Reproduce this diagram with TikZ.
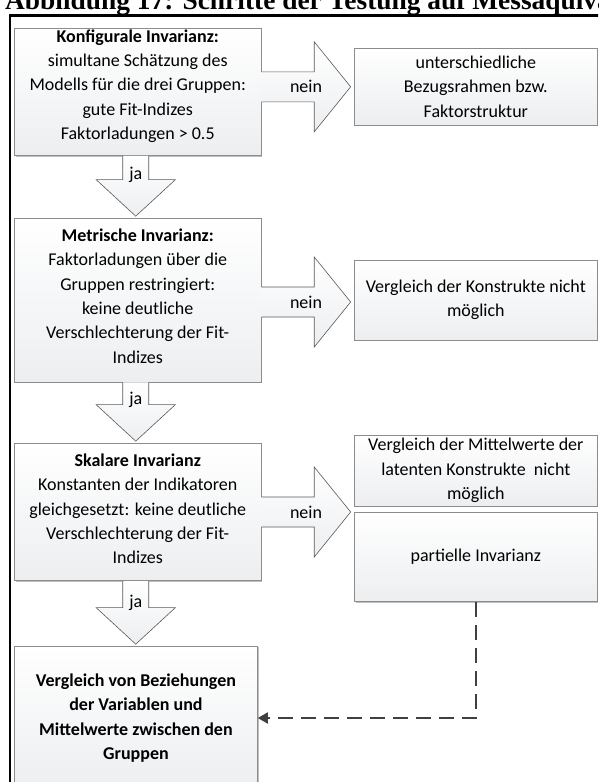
\documentclass[tikz,border=0pt]{standalone}
\usepackage{fontspec}
\setmainfont{Carlito}
\newfontfamily\titlefont{Liberation Serif}
\usetikzlibrary{calc,shadows,arrows.meta}

\definecolor{boxline}{HTML}{8C8C8C}
\definecolor{boxbottom}{HTML}{ECEEF0}
\definecolor{arrowline}{HTML}{595959}
\definecolor{dashline}{HTML}{404040}

% block arrow pointing right, from #1 to #2 at height #3, label node #4
\newcommand\rightblock[4]{%
  \path[blockarrow] let \p1=(#1.east), \p2=(#2.west) in
    (\x1,#3-15) -- (\x2-40.1pt,#3-15) -- (\x2-40.1pt,#3-45) -- (\x2-3.7pt,#3)
    -- (\x2-40.1pt,#3+45) -- (\x2-40.1pt,#3+15) -- (\x1,#3+15)
    node[arrowlabel] (#4) at ({(\x1+\x2)/2-1.85pt},#3) {nein};
}
% block arrow pointing down, from #1 to #2, label node #3
\newcommand\downblock[3]{%
  \path[blockarrow] let \p1=(#1.south), \p2=(#2.north) in
    (\x1-15pt,\y1) -- (\x1-15pt,\y2+38pt) -- (\x1-41.6pt,\y2+38pt) -- (\x1-2pt,\y2+1.5pt)
    -- (\x1+37.6pt,\y2+38pt) -- (\x1+11pt,\y2+38pt) -- (\x1+11pt,\y1)
    node[arrowlabel] (#3) at (\x1-2pt,\y2+43pt) {ja};
}

\begin{document}
\begin{tikzpicture}[x=1pt,y=-1pt,
  stepbox/.style={draw=boxline, line width=0.7pt, top color=white, bottom color=boxbottom,
    align=center, inner sep=0pt, font=\fontsize{18}{24.4}\selectfont,
    drop shadow={shadow xshift=1.2pt, shadow yshift=-1.2pt, fill=black, opacity=0.25}},
  blockarrow/.style={draw=arrowline, line width=0.6pt, top color=white, bottom color=boxbottom},
  arrowlabel/.style={font=\fontsize{18}{20}\selectfont, inner sep=0pt},
  feedback/.style={draw=dashline, line width=1.8pt, dash pattern=on 15pt off 8pt,
    -{Triangle[length=10pt,width=11pt]}}
]
\useasboundingbox (0,0) rectangle (598,782);
\clip (0,0) rectangle (598,782);

% caption and frame
\node[anchor=base west, inner sep=0pt, font=\titlefont\bfseries\fontsize{27.4}{30}\selectfont]
  (title) at (5,9) {Abbildung 17: Schritte der Testung auf Messäquiva};
\draw[line width=2.2pt] (10,15) -- (10,790);
\draw[line width=3pt] (8.9,15) -- (600,15);

% test steps
\node[stepbox, minimum width=246.5pt, minimum height=127pt, text depth=15pt] (konf) at (137.75,92.1)
  {\textbf{Konfigurale Invarianz:}\\simultane Schätzung des\\Modells für die drei Gruppen:\\gute Fit-Indizes\\Faktorladungen > 0.5};
\node[stepbox, minimum width=246.5pt, minimum height=164pt, text depth=8pt] (metr) at (137.75,300)
  {\textbf{Metrische Invarianz:}\\Faktorladungen über die\\Gruppen restringiert:\\keine deutliche\\Verschlechterung der Fit-\\Indizes};
\node[stepbox, minimum width=246.5pt, minimum height=137.7pt, text depth=6pt] (skal) at (137.75,511.85)
  {\textbf{Skalare Invarianz}\\Konstanten der Indikatoren\\gleichgesetzt: keine deutliche\\Verschlechterung der Fit-\\Indizes};
\node[stepbox, minimum width=243pt, minimum height=144pt] (result) at (135.95,718)
  {\textbf{Vergleich von Beziehungen}\\\textbf{der Variablen und}\\\textbf{Mittelwerte zwischen den}\\\textbf{Gruppen}};

% outcomes when a step fails
\node[stepbox, minimum width=242.3pt, minimum height=76.7pt] (frame) at (475.85,86.75)
  {unterschiedliche\\Bezugsrahmen bzw.\\Faktorstruktur};
\node[stepbox, minimum width=242.3pt, minimum height=80pt] (nocmp) at (475.85,300)
  {Vergleich der Konstrukte nicht\\möglich};
\node[stepbox, minimum width=242.3pt, minimum height=71pt] (nomean) at (475.85,470.5)
  {Vergleich der Mittelwerte der\\latenten Konstrukte\ \ nicht\\möglich};
\node[stepbox, minimum width=242.3pt, minimum height=89.7pt] (partial) at (475.85,556.85)
  {partielle Invarianz};

% flow
\downblock{konf}{metr}{ja1}
\downblock{metr}{skal}{ja2}
\downblock{skal}{result}{ja3}
\rightblock{konf}{frame}{86.8}{nein1}
\rightblock{metr}{nocmp}{302}{nein2}
\rightblock{skal}{nomean}{512}{nein3}
\draw[feedback] (partial.south) |- (result.east);
\end{tikzpicture}
\end{document}
